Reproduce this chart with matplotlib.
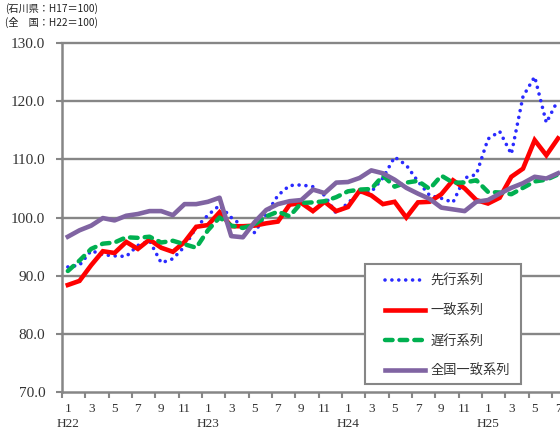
import numpy as np
import matplotlib
matplotlib.use("Agg")
import matplotlib.pyplot as plt
from matplotlib.patches import Rectangle

plt.rcParams['font.family'] = ['Noto Sans CJK JP', 'DejaVu Sans']

# monthly index values, H22.1 - H25.7
leading = [91.5, 91.8, 94.3, 93.6, 93.4, 93.3, 95.2, 96.0, 92.2, 92.9, 95.0, 98.3,
           100.4, 102.1, 100.0, 98.5, 97.4, 100.6, 103.8, 105.5, 105.6, 105.3, 103.8, 100.7,
           102.5, 104.3, 104.4, 106.8, 110.4, 109.0, 106.2, 103.8, 103.3, 102.6, 106.8, 107.4,
           113.5, 114.8, 110.9, 120.8, 124.2, 116.3, 120.2]
coincident = [88.4, 89.1, 91.8, 94.2, 93.9, 95.8, 94.6, 96.2, 94.8, 94.1, 95.8, 98.4,
              98.7, 100.9, 98.5, 98.5, 98.6, 99.0, 99.3, 102.2, 102.5, 101.1, 102.7, 101.1,
              101.8, 104.6, 103.8, 102.3, 102.7, 100.0, 102.6, 102.7, 104.0, 106.4, 105.0, 103.0,
              102.4, 103.4, 107.0, 108.4, 113.3, 110.7, 113.6]
lagging = [90.8, 92.6, 94.6, 95.5, 95.7, 96.6, 96.5, 96.7, 95.7, 96.0, 95.4, 94.8,
           97.8, 100.0, 98.6, 98.2, 98.8, 100.2, 101.0, 100.2, 102.5, 102.6, 102.8, 103.5,
           104.5, 104.8, 104.9, 107.2, 105.3, 106.0, 106.3, 104.9, 107.2, 106.0, 106.0, 106.4,
           104.4, 104.3, 104.0, 105.1, 106.2, 106.5, 107.4]
national = [96.7, 97.8, 98.6, 99.9, 99.5, 100.3, 100.6, 101.1, 101.1, 100.4, 102.3, 102.3,
            102.7, 103.4, 96.8, 96.6, 99.2, 101.3, 102.3, 102.8, 103.0, 104.8, 104.2, 106.0,
            106.1, 106.8, 108.1, 107.6, 106.5, 105.1, 104.1, 103.2, 101.7, 101.4, 101.1, 102.7,
            103.0, 104.1, 105.1, 105.9, 107.0, 106.7, 107.6]

months = [1, 2, 3, 4, 5, 6, 7, 8, 9, 10, 11, 12] * 3 + [1, 2, 3, 4, 5, 6, 7]
years = ['H22', 'H23', 'H24', 'H25']
series_names = ['先行系列', '一致系列', '遅行系列', '全国一致系列']

gray = '#868686'
x = np.arange(len(leading))

fig = plt.figure(figsize=(5.6, 4.33), dpi=100)
ax = fig.add_axes([62 / 560, 1 - 392 / 433, 498 / 560, 349 / 433])

for yv in range(80, 131, 10):
    ax.axhline(yv, color=gray, lw=1.7, zorder=1, clip_on=False)

ax.plot(x, leading, color='#2a2aff', lw=2.6, linestyle=(0, (0.01, 1.9)),
        dash_capstyle='round', zorder=3, label=series_names[0])
ax.plot(x, coincident, color='#ff0000', lw=3.3, solid_joinstyle='miter',
        zorder=3, label=series_names[1])
ax.plot(x, lagging, color='#00b050', lw=3.2, linestyle=(0, (1.7, 1.6)),
        dash_capstyle='round', zorder=3, label=series_names[2])
ax.plot(x, national, color='#8064a2', lw=3.3, zorder=3, label=series_names[3])

ax.set_xlim(-0.5, 42.17)
ax.set_ylim(70, 130)

for s in ['top', 'right']:
    ax.spines[s].set_visible(False)
for s in ['left', 'bottom']:
    ax.spines[s].set_color(gray)
    ax.spines[s].set_linewidth(1.8)

ax.set_yticks(range(70, 131, 10))
ax.set_yticklabels([f'{v}.0' for v in range(70, 131, 10)],
                   family='Liberation Serif', fontsize=11, color='#333333')
ax.tick_params(axis='y', direction='out', length=4, width=1.5, color=gray, pad=8)

# tick marks between categories, labels at categories
ax.set_xticks(np.arange(-0.5, 42, 2))
ax.set_xticklabels([])
ax.tick_params(axis='x', which='major', direction='out', length=4, width=1.5, color=gray)
lab_pos = list(range(0, len(months), 2))
labels = []
for i in lab_pos:
    t = str(months[i])
    if months[i] == 1:
        t += '\n' + years[i // 12]
    labels.append(t)
ax.set_xticks(lab_pos, minor=True)
ax.set_xticklabels(labels, minor=True, family='Liberation Serif', fontsize=9.5,
                   color='#333333', linespacing=1.35, va='top')
ax.tick_params(axis='x', which='minor', length=0, pad=8)

# legend box
ax.add_patch(Rectangle((0.6084, 0.0229), 0.3133, 0.3438, transform=ax.transAxes,
                       facecolor='white', edgecolor=gray, lw=1.5, zorder=5))
leg = ax.legend(loc='upper left', bbox_to_anchor=(0.635, 0.357), frameon=False,
                fontsize=9.5, handlelength=2.9, handletextpad=0.35,
                labelspacing=1.24, borderpad=0, prop={'family': ['Noto Sans CJK JP']})
leg.set_zorder(6)
for t in leg.get_texts():
    t.set_fontsize(9.5)
    t.set_color('#333333')

fig.text(5 / 560, 1 - 9 / 433, '(石川県：H17＝100)', fontsize=7.3, va='center',
         color='#222222')
fig.text(5 / 560, 1 - 22 / 433, '(全　国：H22＝100)', fontsize=7.3, va='center',
         color='#222222')

fig.savefig('out.png', dpi=100)
